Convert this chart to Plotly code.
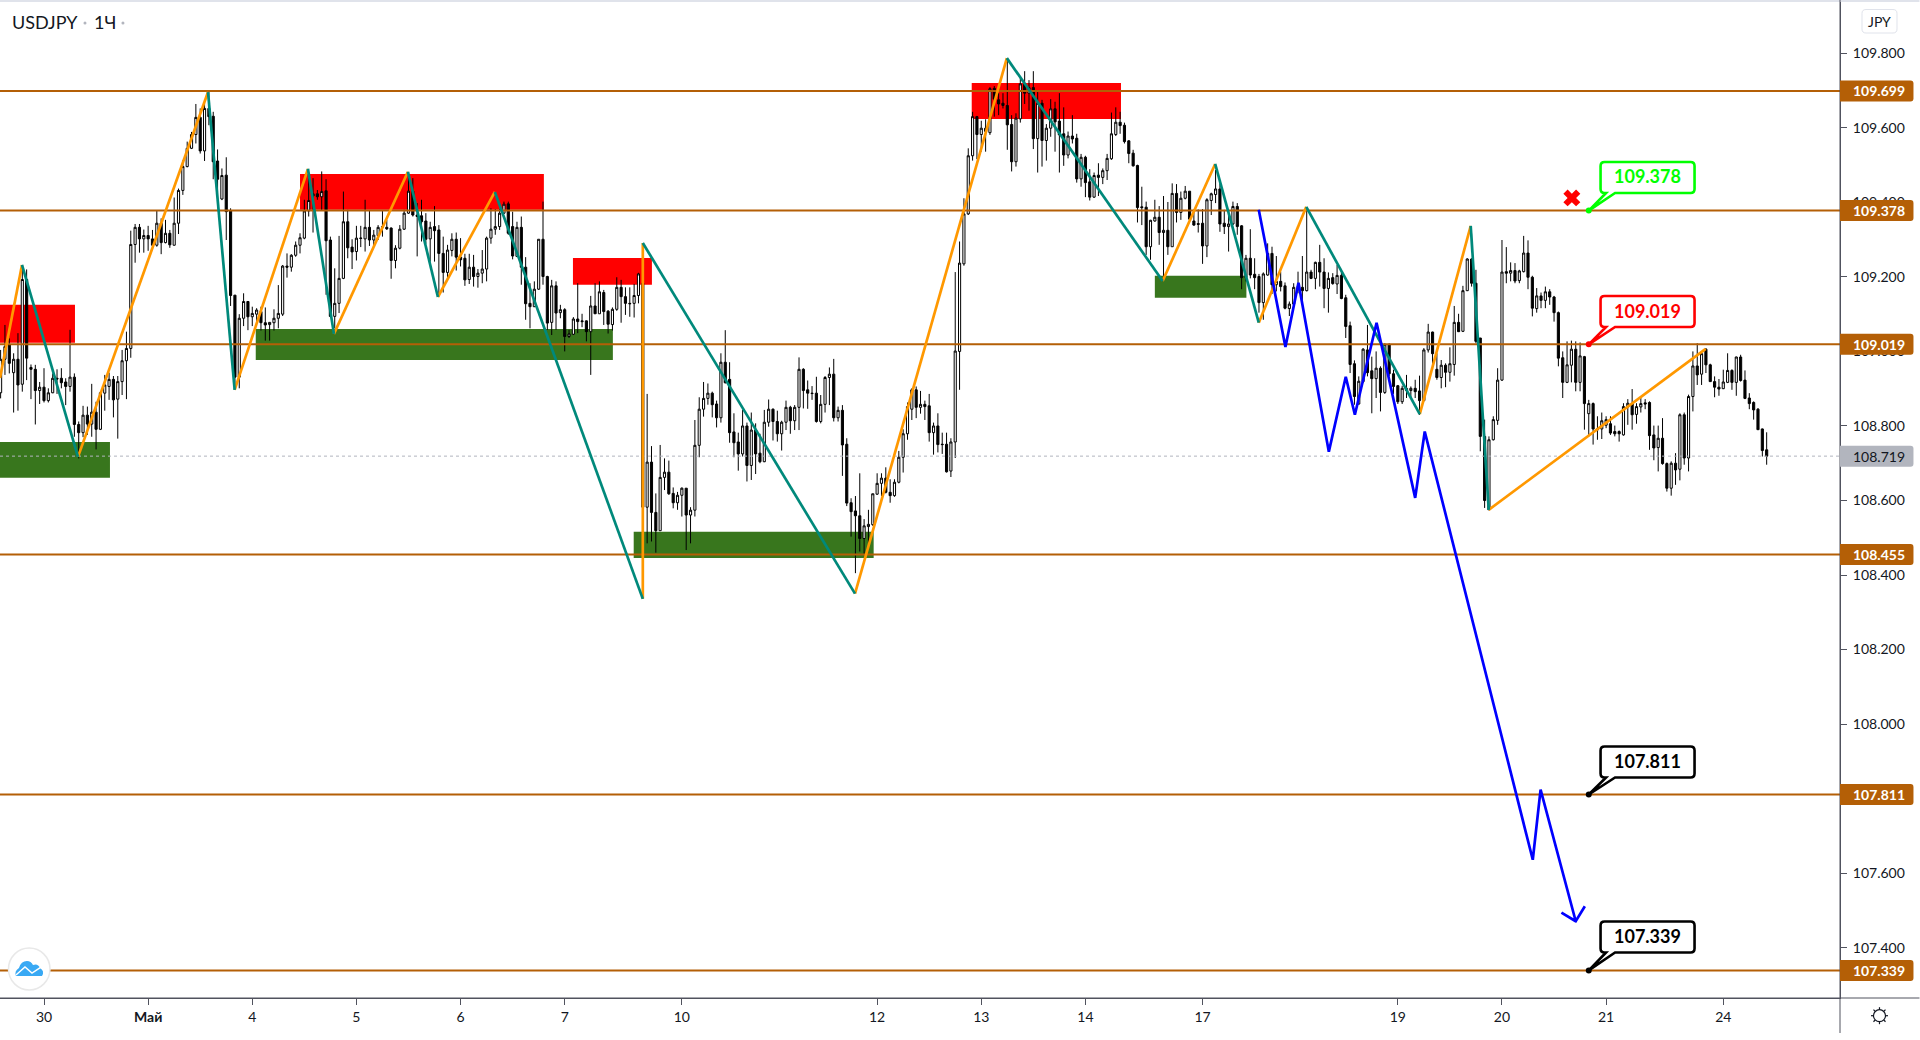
import plotly.graph_objects as go

# ---------- chart data (prices) ----------
symbol = "USDJPY"
interval = "1Ч"
first_bar = -10

body_top = [
108.979,109.013,109.017,108.979,108.979,109.193,109.193,108.957,108.952,108.904,
108.904,108.889,108.928,108.928,108.928,108.918,108.931,108.931,108.804,108.829,
108.829,108.837,108.837,108.889,108.910,108.925,108.925,108.919,108.975,109.008,
109.287,109.333,109.333,109.311,109.311,109.302,109.344,109.344,109.317,109.317,
109.344,109.432,109.496,109.545,109.582,109.628,109.628,109.652,109.652,109.631,
109.511,109.472,109.473,109.377,109.151,109.089,109.134,109.134,109.102,109.111,
109.107,109.077,109.078,109.089,109.102,109.229,109.229,109.258,109.285,109.305,
109.377,109.405,109.423,109.423,109.429,109.431,109.299,109.129,109.196,109.348,
109.348,109.280,109.304,109.304,109.333,109.333,109.312,109.333,109.335,109.333,
109.331,109.277,109.328,109.371,109.430,109.430,109.366,109.364,109.350,109.333,
109.335,109.326,109.263,109.272,109.301,109.301,109.253,109.250,109.226,109.226,
109.210,109.221,109.304,109.328,109.335,109.371,109.395,109.396,109.335,109.333,
109.333,109.226,109.129,109.167,109.301,109.301,109.201,109.176,109.176,109.112,
109.112,109.047,109.087,109.087,109.082,109.082,109.122,109.122,109.160,109.158,
109.108,109.113,109.172,109.172,109.147,109.129,109.150,109.208,109.183,108.703,
108.703,108.568,108.662,108.676,108.676,108.619,108.614,108.633,108.633,108.574,
108.748,108.845,108.874,108.888,108.888,108.859,108.971,108.971,108.925,108.784,
108.757,108.800,108.800,108.789,108.789,108.727,108.810,108.845,108.845,108.812,
108.810,108.850,108.850,108.850,108.952,108.952,108.897,108.888,108.888,108.858,
108.930,108.939,108.939,108.842,108.842,108.751,108.594,108.572,108.559,108.532,
108.536,108.618,108.646,108.660,108.660,108.622,108.649,108.716,108.779,108.852,
108.897,108.897,108.858,108.858,108.854,108.800,108.800,108.751,108.751,108.757,
109.001,109.237,109.369,109.525,109.630,109.630,109.599,109.599,109.705,109.706,
109.675,109.666,109.660,109.609,109.626,109.718,109.718,109.708,109.708,109.666,
109.666,109.599,109.651,109.651,109.618,109.584,109.578,109.578,109.572,109.521,
109.521,109.455,109.472,109.473,109.485,109.518,109.584,109.615,109.615,109.607,
109.565,109.532,109.499,109.388,109.387,109.352,109.360,109.360,109.325,109.325,
109.424,109.424,109.411,109.430,109.430,109.350,109.343,109.344,109.407,109.423,
109.436,109.436,109.344,109.342,109.389,109.389,109.337,109.250,109.250,109.207,
109.201,109.208,109.263,109.263,109.188,109.188,109.176,109.127,109.172,109.174,
109.172,109.213,109.213,109.239,109.239,109.213,109.196,109.198,109.204,109.204,
109.144,109.069,108.967,108.920,109.006,109.004,108.948,108.955,108.955,109.018,
109.018,108.940,108.908,108.901,108.901,108.901,108.901,108.894,109.004,109.052,
109.052,108.952,108.963,108.963,108.967,109.078,109.078,109.163,109.248,109.248,
109.183,109.036,108.772,108.763,108.817,108.923,109.213,109.214,109.217,109.217,
109.216,109.264,109.264,109.199,109.149,109.149,109.160,109.160,109.146,109.104,
108.983,108.964,109.006,109.006,108.988,108.986,108.860,108.860,108.792,108.814,
108.817,108.806,108.785,108.785,108.852,108.861,108.860,108.852,108.860,108.862,
108.863,108.776,108.767,108.767,108.699,108.700,108.700,108.830,108.830,108.879,
108.961,108.961,108.994,109.006,108.964,108.919,108.904,108.918,108.949,108.949,
108.985,108.985,108.923,108.875,108.863,108.845,108.792,108.736]

body_bottom = [
108.889,108.979,108.968,108.943,108.910,108.912,108.982,108.952,108.895,108.895,
108.868,108.868,108.889,108.926,108.916,108.906,108.906,108.804,108.782,108.782,
108.805,108.805,108.791,108.791,108.888,108.906,108.870,108.872,108.919,108.975,
109.008,109.287,109.302,109.302,109.302,109.285,109.285,109.292,109.292,109.286,
109.285,109.344,109.432,109.496,109.545,109.582,109.538,109.538,109.630,109.509,
109.462,109.409,109.375,109.150,108.931,108.931,109.089,109.093,109.093,109.100,
109.077,109.071,109.072,109.077,109.089,109.100,109.226,109.226,109.258,109.285,
109.304,109.377,109.417,109.415,109.415,109.297,109.094,109.094,109.129,109.196,
109.278,109.267,109.268,109.303,109.302,109.299,109.299,109.311,109.333,109.329,
109.244,109.244,109.277,109.328,109.371,109.366,109.362,109.348,109.301,109.302,
109.324,109.263,109.212,109.212,109.271,109.253,109.246,109.192,109.193,109.201,
109.201,109.210,109.221,109.304,109.328,109.335,109.371,109.317,109.256,109.255,
109.226,109.128,109.120,109.120,109.167,109.201,109.076,109.078,109.103,109.104,
109.040,109.040,109.046,109.080,109.080,109.053,109.053,109.101,109.101,109.107,
109.073,109.072,109.113,109.147,109.129,109.128,109.129,109.150,108.582,108.582,
108.568,108.519,108.519,108.662,108.618,108.594,108.594,108.614,108.561,108.561,
108.574,108.748,108.845,108.874,108.857,108.822,108.822,108.916,108.782,108.755,
108.725,108.725,108.694,108.694,108.725,108.704,108.704,108.810,108.812,108.779,
108.779,108.810,108.814,108.814,108.850,108.895,108.888,108.887,108.812,108.812,
108.858,108.930,108.822,108.822,108.749,108.593,108.570,108.559,108.498,108.498,
108.530,108.535,108.617,108.646,108.622,108.613,108.613,108.649,108.716,108.779,
108.845,108.850,108.850,108.852,108.782,108.782,108.750,108.750,108.677,108.679,
108.757,109.000,109.235,109.369,109.525,109.582,109.582,109.590,109.587,109.677,
109.664,109.660,109.608,109.509,109.509,109.624,109.693,109.693,109.571,109.571,
109.566,109.566,109.599,109.616,109.581,109.527,109.527,109.570,109.463,109.463,
109.453,109.414,109.414,109.467,109.467,109.485,109.517,109.582,109.606,109.563,
109.531,109.498,109.386,109.386,109.281,109.281,109.350,109.319,109.319,109.281,
109.281,109.373,109.373,109.411,109.355,109.339,109.341,109.283,109.283,109.405,
109.421,109.342,109.335,109.335,109.342,109.335,109.198,109.198,109.205,109.198,
109.131,109.131,109.205,109.179,109.179,109.174,109.116,109.115,109.127,109.172,
109.163,109.163,109.196,109.196,109.213,109.169,109.169,109.182,109.181,109.142,
109.067,108.965,108.879,108.859,108.919,108.943,108.927,108.927,108.890,108.890,
108.940,108.906,108.865,108.865,108.895,108.895,108.892,108.868,108.868,109.004,
108.994,108.930,108.930,108.944,108.944,108.965,109.053,109.054,109.163,109.183,
109.027,108.772,108.600,108.575,108.763,108.815,108.923,109.210,109.210,109.189,
109.190,109.214,109.199,109.116,109.115,109.137,109.137,109.146,109.104,108.982,
108.917,108.917,108.963,108.917,108.917,108.860,108.833,108.792,108.790,108.792,
108.802,108.781,108.779,108.779,108.776,108.851,108.830,108.831,108.851,108.859,
108.774,108.741,108.742,108.699,108.633,108.633,108.682,108.684,108.714,108.714,
108.879,108.937,108.939,108.964,108.919,108.904,108.899,108.900,108.917,108.917,
108.917,108.922,108.874,108.860,108.843,108.790,108.734,108.719]

wick_high = [
109.004,109.071,109.035,108.995,109.049,109.232,109.220,108.965,108.964,108.918,
108.955,108.901,108.941,108.952,108.955,108.928,109.058,108.941,108.812,108.854,
108.852,108.913,108.865,108.892,108.937,108.943,108.934,108.934,109.004,109.053,
109.324,109.342,109.342,109.327,109.337,109.326,109.379,109.357,109.353,109.326,
109.413,109.437,109.513,109.563,109.589,109.664,109.652,109.665,109.697,109.643,
109.542,109.491,109.521,109.384,109.151,109.100,109.156,109.134,109.120,109.116,
109.120,109.118,109.078,109.113,109.178,109.232,109.263,109.261,109.295,109.317,
109.407,109.474,109.465,109.433,109.483,109.462,109.308,109.223,109.310,109.429,
109.380,109.301,109.337,109.337,109.407,109.378,109.326,109.339,109.378,109.353,
109.333,109.285,109.339,109.380,109.478,109.465,109.398,109.407,109.371,109.348,
109.390,109.339,109.308,109.286,109.317,109.319,109.304,109.262,109.262,109.259,
109.221,109.272,109.308,109.384,109.382,109.382,109.402,109.402,109.375,109.348,
109.362,109.253,109.183,109.188,109.301,109.402,109.203,109.192,109.188,109.125,
109.116,109.058,109.092,109.183,109.101,109.083,109.149,109.183,109.188,109.165,
109.111,109.118,109.199,109.192,109.172,109.172,109.181,109.211,109.208,108.886,
108.746,108.619,108.749,108.713,108.707,108.635,108.623,108.635,108.633,108.582,
108.816,108.877,108.918,108.914,108.892,108.868,108.995,109.057,108.971,108.834,
108.782,108.843,108.809,108.836,108.807,108.779,108.843,108.871,108.847,108.841,
108.814,108.868,108.854,108.856,108.984,108.955,108.922,108.907,108.932,108.883,
108.934,108.957,108.980,108.852,108.856,108.767,108.606,108.612,108.673,108.550,
108.575,108.618,108.673,108.673,108.689,108.657,108.657,108.733,108.791,108.863,
108.901,108.906,108.894,108.868,108.886,108.809,108.834,108.782,108.782,108.767,
109.213,109.295,109.411,109.545,109.643,109.632,109.619,109.623,109.709,109.712,
109.693,109.693,109.782,109.634,109.639,109.733,109.752,109.728,109.752,109.696,
109.675,109.610,109.677,109.670,109.693,109.655,109.590,109.634,109.584,109.530,
109.525,109.489,109.480,109.505,109.491,109.530,109.641,109.655,109.643,109.614,
109.567,109.541,109.501,109.442,109.402,109.353,109.407,109.390,109.417,109.401,
109.451,109.449,109.429,109.444,109.430,109.381,109.381,109.382,109.411,109.426,
109.487,109.451,109.380,109.371,109.402,109.398,109.339,109.259,109.328,109.250,
109.208,109.212,109.290,109.281,109.256,109.214,109.185,109.134,109.183,109.214,
109.256,109.387,109.219,109.241,109.286,109.250,109.212,109.210,109.232,109.219,
109.152,109.080,108.976,108.933,109.009,109.071,108.986,109.000,108.960,109.022,
109.022,108.951,108.910,108.908,108.937,108.906,108.924,108.935,109.009,109.074,
109.053,108.995,108.977,108.968,109.011,109.122,109.101,109.176,109.250,109.250,
109.219,109.036,108.817,108.772,108.826,108.955,109.299,109.280,109.239,109.237,
109.219,109.310,109.298,109.203,109.170,109.158,109.174,109.167,109.149,109.107,
109.000,109.027,109.029,109.027,109.024,108.988,108.870,108.863,108.826,108.836,
108.826,108.826,108.801,108.788,108.861,108.872,108.899,108.861,108.875,108.872,
108.866,108.801,108.801,108.821,108.702,108.705,108.727,108.834,108.836,108.884,
109.000,109.022,109.000,109.009,108.967,108.933,108.926,108.951,108.995,108.952,
108.986,108.991,108.949,108.888,108.866,108.848,108.793,108.783]

wick_low = [
108.874,108.937,108.941,108.836,108.841,108.892,108.923,108.872,108.804,108.859,
108.863,108.863,108.888,108.886,108.901,108.856,108.892,108.771,108.713,108.770,
108.776,108.771,108.737,108.789,108.841,108.870,108.823,108.766,108.883,108.872,
108.983,109.238,109.265,109.265,109.270,109.284,109.281,109.261,109.290,109.278,
109.284,109.315,109.420,109.494,109.543,109.558,109.531,109.511,109.607,109.462,
109.411,109.406,109.299,109.122,108.897,108.901,109.068,109.057,109.068,109.075,
109.056,109.029,109.029,109.056,109.062,109.095,109.198,109.214,109.254,109.263,
109.301,109.362,109.319,109.407,109.378,109.152,109.094,109.062,109.103,109.194,
109.250,109.221,109.244,109.280,109.268,109.283,109.283,109.299,109.308,109.326,
109.195,109.223,109.274,109.326,109.369,109.362,109.255,109.295,109.289,109.241,
109.241,109.147,109.158,109.192,109.255,109.217,109.228,109.176,109.181,109.174,
109.171,109.183,109.188,109.289,109.313,109.326,109.369,109.313,109.247,109.253,
109.179,109.085,109.062,109.119,109.165,109.179,109.058,109.044,109.058,109.089,
109.000,109.036,109.044,109.049,109.065,109.027,108.937,109.101,109.101,109.071,
109.048,109.056,109.109,109.077,109.098,109.093,109.091,109.129,108.485,108.485,
108.490,108.460,108.519,108.628,108.615,108.579,108.575,108.557,108.467,108.485,
108.557,108.716,108.825,108.857,108.823,108.796,108.809,108.914,108.755,108.716,
108.680,108.718,108.651,108.655,108.671,108.700,108.703,108.798,108.761,108.758,
108.734,108.789,108.779,108.789,108.789,108.847,108.846,108.870,108.809,108.807,
108.836,108.856,108.812,108.812,108.666,108.585,108.503,108.405,108.463,108.454,
108.485,108.532,108.615,108.612,108.619,108.594,108.610,108.646,108.675,108.763,
108.816,108.821,108.833,108.816,108.758,108.723,108.729,108.725,108.675,108.663,
108.714,108.897,109.230,109.366,109.512,109.516,109.536,109.536,109.581,109.630,
109.634,109.652,109.541,109.483,109.496,109.614,109.664,109.646,109.543,109.480,
109.496,109.512,109.576,109.536,109.480,109.498,109.518,109.558,109.453,109.442,
109.414,109.405,109.412,109.417,109.449,109.460,109.514,109.578,109.584,109.558,
109.505,109.496,109.346,109.339,109.259,109.246,109.348,109.286,109.190,109.259,
109.281,109.346,109.353,109.408,109.353,109.337,109.319,109.235,109.253,109.366,
109.398,109.321,109.315,109.268,109.339,109.313,109.167,109.188,109.196,109.167,
109.104,109.085,109.203,109.154,109.161,109.161,109.113,109.095,109.125,109.156,
109.134,109.161,109.194,109.167,109.174,109.116,109.104,109.179,109.154,109.140,
109.036,108.942,108.857,108.857,108.915,108.933,108.834,108.875,108.839,108.886,
108.933,108.886,108.859,108.859,108.875,108.875,108.875,108.830,108.866,108.997,
108.951,108.924,108.901,108.904,108.919,108.935,109.052,109.052,109.162,109.174,
109.022,108.732,108.580,108.575,108.761,108.803,108.921,109.183,109.188,109.183,
109.183,109.212,109.167,109.094,109.104,109.116,109.116,109.125,109.080,108.960,
108.875,108.915,108.917,108.893,108.893,108.790,108.772,108.750,108.763,108.765,
108.794,108.776,108.772,108.758,108.774,108.803,108.790,108.806,108.836,108.845,
108.736,108.708,108.678,108.696,108.624,108.613,108.642,108.654,108.696,108.678,
108.839,108.910,108.910,108.942,108.918,108.877,108.881,108.899,108.915,108.897,
108.881,108.919,108.872,108.845,108.817,108.790,108.718,108.696]

bar_up = [
1,1,0,1,0,1,0,0,0,1, 0,1,1,0,0,0,1,0,0,1, 0,1,0,1,1,1,0,1,1,1, 1,1,0,1,0,0,1,0,1,0,
1,1,1,1,1,1,0,1,0,0, 0,1,0,0,0,1,1,0,1,1, 0,0,1,1,1,1,0,1,1,1, 1,1,0,0,1,0,0,1,1,1,
0,0,1,1,1,0,1,1,0,0, 0,1,1,1,1,0,0,0,0,1, 0,0,0,1,1,0,0,0,1,0, 1,1,1,1,1,1,1,0,0,1,
0,0,0,1,1,0,0,1,0,1, 0,1,1,0,0,0,1,0,1,0, 0,1,1,0,0,0,1,1,0,1, 0,0,1,1,0,0,1,1,0,1,
1,1,1,1,0,0,1,0,0,0, 0,1,0,1,0,0,1,1,0,0, 1,1,0,1,1,0,0,0,0,1, 1,1,0,1,0,0,0,0,0,1,
1,1,1,1,0,0,1,1,1,1, 1,0,1,0,0,1,0,0,0,1, 1,1,1,1,1,0,1,1,1,0, 0,0,0,0,1,1,0,1,0,1,
0,1,1,0,0,0,1,0,0,1, 0,0,1,0,1,1,1,1,0,0, 0,0,0,0,0,1,1,0,1,0, 1,0,1,1,0,0,0,0,1,1,
1,0,0,1,1,0,0,1,0,0, 0,1,1,0,1,0,0,1,1,1, 0,1,0,1,0,0,1,0,1,0, 0,0,0,1,1,0,0,1,0,1,
0,0,0,1,1,1,0,0,1,1, 0,0,1,0,1,1,0,1,1,0, 0,0,0,1,1,1,1,0,1,0, 1,1,0,0,1,0,1,0,0,0,
0,1,1,0,1,0,1,0,0,1, 1,0,0,0,1,1,0,1,1,0, 0,0,1,0,0,1,0,1,0,1, 1,0,1,0,0,0,0,1,1,0,
1,0,0,0,0,0,0,0]

levels = [109.699, 109.378, 109.019, 108.455, 107.811, 107.339]
last_price = 108.719
y_ticks = [107.4, 107.6, 107.8, 108.0, 108.2, 108.4, 108.6, 108.8, 109.0, 109.2, 109.4, 109.6, 109.8]
x_ticks = [0, 24, 48, 72, 96, 120, 147, 192, 216, 240, 267, 312, 336, 360, 387]
x_labels = ["30", "<b>Май</b>", "4", "5", "6", "7", "10", "12", "13", "14", "17", "19", "20", "21", "24"]

# swing legs: alternate orange (up) / teal (down)
swing_bar = [-10.14, -5.07, 7.83, 37.8, 43.94, 60.83, 66.82, 83.87, 90.78, 103.9, 138.0, 138.0,
             186.9, 221.9, 257.8, 269.9, 279.95, 290.9, 317.05, 328.8, 332.95, 382.95]
swing_price = [108.929, 109.232, 108.717, 109.696, 108.897, 109.490, 109.047, 109.482, 109.146, 109.428,
               108.336, 109.291, 108.350, 109.787, 109.189, 109.503, 109.077, 109.388, 108.832, 109.337,
               108.575, 109.007]

forecast_bar = [279.95, 286.1, 289.1, 296.1, 300.0, 302.1, 307.1, 316.0, 318.2, 343.1, 344.9, 353.0, 349.7, 353.0, 355.1]
forecast_price = [109.380, 109.012, 109.184, 108.731, 108.932, 108.830, 109.077, 108.607, 108.785, 107.636,
                  107.824, 107.471, 107.494, 107.471, 107.511]

# zones: bar from, bar to, price top, price bottom
red_zones = [(-10.14, 7.14, 109.125, 109.023), (59.0, 115.2, 109.476, 109.380),
             (121.9, 140.1, 109.251, 109.179), (213.8, 248.2, 109.720, 109.624)]
green_zones = [(-10.14, 15.2, 108.757, 108.661), (48.8, 131.1, 109.060, 108.977),
               (135.9, 191.2, 108.516, 108.446), (256.0, 277.1, 109.203, 109.144)]

callouts = [(109.378, "#00ff00", 162), (109.019, "#ff0000", 296), (107.811, "#000000", 746.5), (107.339, "#000000", 921.5)]
cross_bar, cross_price = 352.1, 109.412
callout_bar = 356

# ---------- layout constants ----------
W, H = 1920, 1040
PW, PH = 1840.5, 998.0
X_RANGE = [-10.14, 413.9]
Y_RANGE = [107.265, 109.943]
FONT = "Lato"
TXT = "#131722"
AXIS = "#50535e"
BROWN = "#b45f06"


def px(x):
    return x / PW


def py(y):
    return 1 - y / PH


def price_y(p):
    return (Y_RANGE[1] - p) / (Y_RANGE[1] - Y_RANGE[0]) * PH


def bar_x(k):
    return (k - X_RANGE[0]) / (X_RANGE[1] - X_RANGE[0]) * PW


bars = list(range(first_bar, first_bar + len(body_top)))
opens = [b if u else t for t, b, u in zip(body_top, body_bottom, bar_up)]
closes = [t if u else b for t, b, u in zip(body_top, body_bottom, bar_up)]

fig = go.Figure()

fig.add_trace(go.Candlestick(
    x=bars, open=opens, high=wick_high, low=wick_low, close=closes,
    increasing=dict(line=dict(color="#000000", width=1), fillcolor="#ffffff"),
    decreasing=dict(line=dict(color="#000000", width=1), fillcolor="#000000"),
    whiskerwidth=0, hoverinfo="skip", showlegend=False))

# last price dotted line
fig.add_trace(go.Scatter(x=X_RANGE, y=[last_price, last_price], mode="lines",
                         line=dict(color="#b2b5be", width=1, dash="dot"), hoverinfo="skip", showlegend=False))
# horizontal levels
for lv in levels:
    fig.add_trace(go.Scatter(x=X_RANGE, y=[lv, lv], mode="lines",
                             line=dict(color=BROWN, width=2), hoverinfo="skip", showlegend=False))

# swing legs
ox, oy, tx, ty = [], [], [], []
for i in range(len(swing_bar) - 1):
    xs, ys = (ox, oy) if i % 2 == 0 else (tx, ty)
    xs += [swing_bar[i], swing_bar[i + 1], None]
    ys += [swing_price[i], swing_price[i + 1], None]
fig.add_trace(go.Scatter(x=ox, y=oy, mode="lines", line=dict(color="#ff9800", width=2.7),
                         hoverinfo="skip", showlegend=False))
fig.add_trace(go.Scatter(x=tx, y=ty, mode="lines", line=dict(color="#00897b", width=2.7),
                         hoverinfo="skip", showlegend=False))
fig.add_trace(go.Scatter(x=forecast_bar, y=forecast_price, mode="lines",
                         line=dict(color="#0000ff", width=2.7), hoverinfo="skip", showlegend=False))
fig.add_trace(go.Scatter(x=[cross_bar], y=[cross_price], mode="markers",
                         marker=dict(symbol="x", size=15, color="#ff0000", line=dict(width=0)),
                         hoverinfo="skip", showlegend=False))

shapes = []
annotations = []

for zones, color in ((red_zones, "#ff0000"), (green_zones, "#38761d")):
    for x0, x1, top, bot in zones:
        shapes.append(dict(type="rect", layer="below", xref="x", yref="y", x0=x0, x1=x1, y0=bot, y1=top,
                           fillcolor=color, line=dict(width=0)))


def p_x(v):
    return f"{px(v):.5f}"


def p_y(v):
    return f"{py(v):.5f}"


def P(x, y):
    return f"{p_x(x)},{p_y(y)}"


def paper_path(d, fill=None, color=None, width=1, layer="above"):
    s = dict(type="path", xref="paper", yref="paper", path=d, layer=layer, line=dict(width=0))
    if fill:
        s["fillcolor"] = fill
    if color:
        s["line"] = dict(color=color, width=width)
    shapes.append(s)


def rrect(l, t, r, b, rad):
    return (f"M{P(l + rad, t)} L{P(r - rad, t)} Q{P(r, t)} {P(r, t + rad)} L{P(r, b - rad)} Q{P(r, b)} {P(r - rad, b)} "
            f"L{P(l + rad, b)} Q{P(l, b)} {P(l, b - rad)} L{P(l, t + rad)} Q{P(l, t)} {P(l + rad, t)} Z")


# chrome: top band, axes extension
paper_path(f"M{P(0, 0)} L{P(W, 0)} L{P(W, 2)} L{P(0, 2)} Z", fill="#e0e3eb")
paper_path(f"M{P(PW, 0)} L{P(PW, 1033)}", color=AXIS, width=1)
paper_path(f"M{P(0, PH)} L{P(W, PH)}", color=AXIS, width=1)

# price labels on the axis
for lv in levels:
    yc = price_y(lv)
    t, b = yc - 10.5, yc + 10.5
    paper_path(f"M{P(PW, t)} L{P(1911, t)} Q{P(1914, t)} {P(1914, t + 3)} L{P(1914, b - 3)} Q{P(1914, b)} {P(1911, b)} L{P(PW, b)} Z",
               fill=BROWN)
    annotations.append(dict(xref="paper", yref="y", x=px(1880), y=lv, text=f"<b>{lv:.3f}</b>", showarrow=False,
                            xanchor="center", yanchor="middle", font=dict(family=FONT, size=14, color="#ffffff")))
yc = price_y(last_price)
paper_path(f"M{P(PW, yc - 10.5)} L{P(1911, yc - 10.5)} Q{P(1914, yc - 10.5)} {P(1914, yc - 7.5)} L{P(1914, yc + 7.5)} "
           f"Q{P(1914, yc + 10.5)} {P(1911, yc + 10.5)} L{P(PW, yc + 10.5)} Z", fill="#b2b5be")
annotations.append(dict(xref="paper", yref="y", x=px(1880), y=last_price, text=f"{last_price:.3f}", showarrow=False,
                        xanchor="center", yanchor="middle", font=dict(family=FONT, size=14, color=TXT)))

# callouts
for price, color, top in callouts:
    L, R, T, B = 1601, 1695, top, top + 31
    tipx, tipy = bar_x(callout_bar) + 0.0, price_y(price)
    r = 4
    d = (f"M{P(L + r, T)} L{P(R - r, T)} Q{P(R, T)} {P(R, T + r)} L{P(R, B - r)} Q{P(R, B)} {P(R - r, B)} "
         f"L{P(1615.5, B)} L{P(tipx, tipy)} L{P(1606.5, B)} L{P(L + r, B)} Q{P(L, B)} {P(L, B - r)} L{P(L, T + r)} Q{P(L, T)} {P(L + r, T)} Z")
    paper_path(d, fill="#ffffff", color=color, width=2.6)
    shapes.append(dict(type="circle", xref="paper", yref="paper", x0=px(tipx - 3), x1=px(tipx + 3),
                       y0=py(tipy + 3), y1=py(tipy - 3), fillcolor=color, line=dict(width=0)))
    annotations.append(dict(xref="paper", yref="paper", x=px(1648), y=py((T + B) / 2 - 1), text=f"<b>{price:.3f}</b>",
                            showarrow=False, xanchor="center", yanchor="middle",
                            font=dict(family=FONT, size=18, color=color)))

# JPY button
paper_path(rrect(1862.5, 9.5, 1897.5, 33, 4), fill="#ffffff", color="#e0e3eb", width=1)
annotations.append(dict(xref="paper", yref="paper", x=px(1880), y=py(21.5), text="JPY", showarrow=False,
                        xanchor="center", yanchor="middle", font=dict(family=FONT, size=14, color=TXT)))

# title
annotations.append(dict(xref="paper", yref="paper", x=px(10), y=py(22), text=symbol, showarrow=False,
                        xanchor="left", yanchor="middle", font=dict(family=FONT, size=18, color=TXT)))
annotations.append(dict(xref="paper", yref="paper", x=px(105), y=py(22), text=interval, showarrow=False,
                        xanchor="center", yanchor="middle", font=dict(family=FONT, size=18, color=TXT)))
for cx in (85, 123):
    shapes.append(dict(type="circle", xref="paper", yref="paper", x0=px(cx - 1.5), x1=px(cx + 1.5),
                       y0=py(24.5), y1=py(21.5), fillcolor="#b2b5be", line=dict(width=0)))

# logo badge
shapes.append(dict(type="circle", xref="paper", yref="paper", x0=px(8.5), x1=px(50), y0=py(990), y1=py(948),
                   fillcolor="#ffffff", line=dict(color="#e8e8e8", width=1.5)))
paper_path(f"M{P(16, 976)} Q{P(14, 971)} {P(19, 968)} Q{P(21, 961)} {P(27, 961)} Q{P(31, 961)} {P(33, 965)} "
           f"Q{P(38, 963)} {P(40, 968)} Q{P(45, 971)} {P(42, 976)} Z", fill="#39a9f4")
paper_path(f"M{P(16, 975)} L{P(25, 967)} L{P(32, 973)} L{P(41, 967)}", color="#ffffff", width=1.5)

# settings gear
gx, gy = 1880, 1015.7
shapes.append(dict(type="circle", xref="paper", yref="paper", x0=px(gx - 6), x1=px(gx + 6), y0=py(gy + 6), y1=py(gy - 6),
                   line=dict(color=TXT, width=1.2), fillcolor="#ffffff"))
for dx, dy in ((0, -8.5), (0, 8.5), (-8.5, 0), (8.5, 0), (-6, -6), (6, -6), (-6, 6), (6, 6)):
    paper_path(f"M{P(gx + dx * 0.72, gy + dy * 0.72)} L{P(gx + dx, gy + dy)}", color=TXT, width=1.2)

fig.update_layout(
    width=W, height=H, autosize=False,
    margin=dict(l=0, r=W - PW, t=0, b=H - PH, pad=0),
    paper_bgcolor="#ffffff", plot_bgcolor="#ffffff",
    showlegend=False, shapes=shapes, annotations=annotations, dragmode=False,
    xaxis=dict(range=X_RANGE, rangeslider=dict(visible=False), showgrid=False, zeroline=False,
               tickmode="array", tickvals=x_ticks, ticktext=x_labels, ticks="outside", ticklen=6, tickwidth=1,
               tickcolor=AXIS, tickfont=dict(family=FONT, size=14, color=TXT), showline=True, linecolor=AXIS,
               linewidth=1, automargin=False, fixedrange=True),
    yaxis=dict(range=Y_RANGE, side="right", showgrid=False, zeroline=False, tickmode="array",
               tickvals=y_ticks, ticktext=[f"{v:.3f}" for v in y_ticks], ticks="outside", ticklen=6, tickwidth=1,
               tickcolor=AXIS, tickfont=dict(family=FONT, size=14, color=TXT), showline=True, linecolor=AXIS,
               linewidth=1, automargin=False, fixedrange=True, ticklabelstandoff=3),
)

fig.write_html("out.html", config=dict(displayModeBar=False, responsive=False),
               post_script="document.body.style.margin='0';document.body.style.overflow='hidden';")
